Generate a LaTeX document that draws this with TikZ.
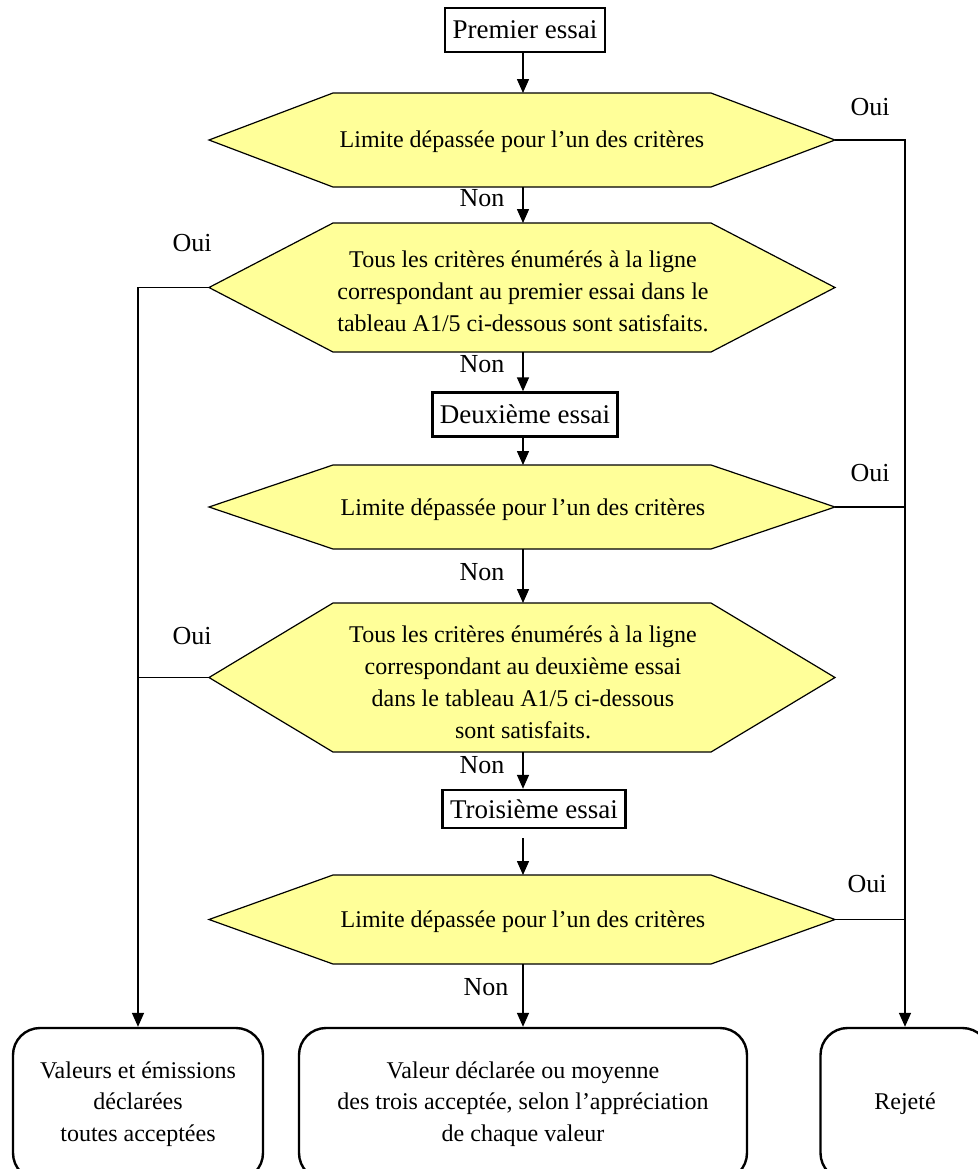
\documentclass[tikz,border=0pt]{standalone}
\usepackage{fontspec}
\setmainfont{Liberation Serif}
\usetikzlibrary{arrows.meta, positioning}

\definecolor{hexfill}{HTML}{FFFF99}

\tikzset{
  hexa/.style={fill=hexfill, draw=black, line width=0.6pt},
  hextext/.style={align=center, font=\fontsize{12}{16}\selectfont},
  essai/.style={draw, line width=1.2pt, inner xsep=3.8pt, minimum height=22pt,
    font=\fontsize{13.5}{16}\selectfont},
  result/.style={draw, line width=1.2pt, rounded corners=13.5pt, align=center,
    minimum height=76pt, font=\fontsize{12}{15.75}\selectfont},
  lab/.style={font=\fontsize{13}{15}\selectfont},
  arr/.style={-{Triangle[width=6pt,length=7pt]}, line width=0.75pt},
  lin/.style={line width=0.75pt}
}

\begin{document}
\begin{tikzpicture}[x=0.5pt, y=-0.5pt]
  \clip (0,0) rectangle (978,1169);

  % the three tests
  \node[essai] (e1) at (525,30) {Premier essai};
  \node[essai] (e2) at (525,414.5) {Deuxième essai};
  \node[essai, minimum height=19pt] (e3) at (534,809) {Troisième essai};

  % decision hexagons: name/centre y/half height
  \foreach \n/\cy/\hh in {h1/140/47, h2/287.5/64.5, h3/507/42, h4/677.5/74.5, h5/919.5/44.5} {
    \filldraw[hexa] (522-313,\cy) coordinate (\n-w) -- (522-189,\cy-\hh)
      -- (522+189,\cy-\hh) -- (522+313,\cy) coordinate (\n-e)
      -- (522+189,\cy+\hh) -- (522-189,\cy+\hh) -- cycle;
    \coordinate (\n-n) at (523,\cy-\hh);
    \coordinate (\n-s) at (523,\cy+\hh);
  }

  \node[hextext] (t1) at (522,142) {Limite dépassée pour l’un des critères};
  \node[hextext] (t2) at (523,291) {Tous les critères énumérés à la ligne\\
    correspondant au premier essai dans le\\tableau A1/5 ci-dessous sont satisfaits.};
  \node[hextext] (t3) at (523,510) {Limite dépassée pour l’un des critères};
  \node[hextext] (t4) at (523,682) {Tous les critères énumérés à la ligne\\
    correspondant au deuxième essai\\dans le tableau A1/5 ci-dessous\\sont satisfaits.};
  \node[hextext] (t5) at (523,922) {Limite dépassée pour l’un des critères};

  % outcomes
  \node[result, minimum width=125pt] (r1) at (138,1104)
    {Valeurs et émissions\\déclarées\\toutes acceptées};
  \node[result, minimum width=224pt] (r2) at (523,1104)
    {Valeur déclarée ou moyenne\\des trois acceptée, selon l’appréciation\\de chaque valeur};
  \node[result, minimum width=84.5pt] (r3) at (905,1104) {Rejeté};

  % main line
  \draw[arr] (e1.south -| h1-n) -- (h1-n);
  \draw[arr] (h1-s) -- (h2-n);
  \draw[arr] (h2-s) -- (e2.north -| h2-s);
  \draw[arr] (e2.south -| h3-n) -- (h3-n);
  \draw[arr] (h3-s) -- (h4-n);
  \draw[arr] (h4-s) -- (e3.north -| h4-s);
  \draw[arr, shorten <=4.5pt] (e3.south -| h5-n) -- (h5-n);
  \draw[arr] (h5-s) -- (r2.north -| h5-s);

  % yes branches
  \draw[arr] (h1-e) -- (h1-e -| r3) -- (r3.north);
  \draw[lin] (h3-e) -- (h3-e -| r3);
  \draw[lin] (h5-e) -- (h5-e -| r3);
  \draw[arr] (h2-w) -- (h2-w -| r1) -- (r1.north);
  \draw[lin] (h4-w) -- (h4-w -| r1);

  % labels
  \foreach \x/\y [count=\i] in {482/198, 482/364, 482/572, 482/765, 486/987}
    \node[lab] (non\i) at (\x,\y) {Non};
  \foreach \x/\y [count=\i] in {870/107, 192/243, 870/473, 192/636, 867/884}
    \node[lab] (oui\i) at (\x,\y) {Oui};
\end{tikzpicture}
\end{document}
